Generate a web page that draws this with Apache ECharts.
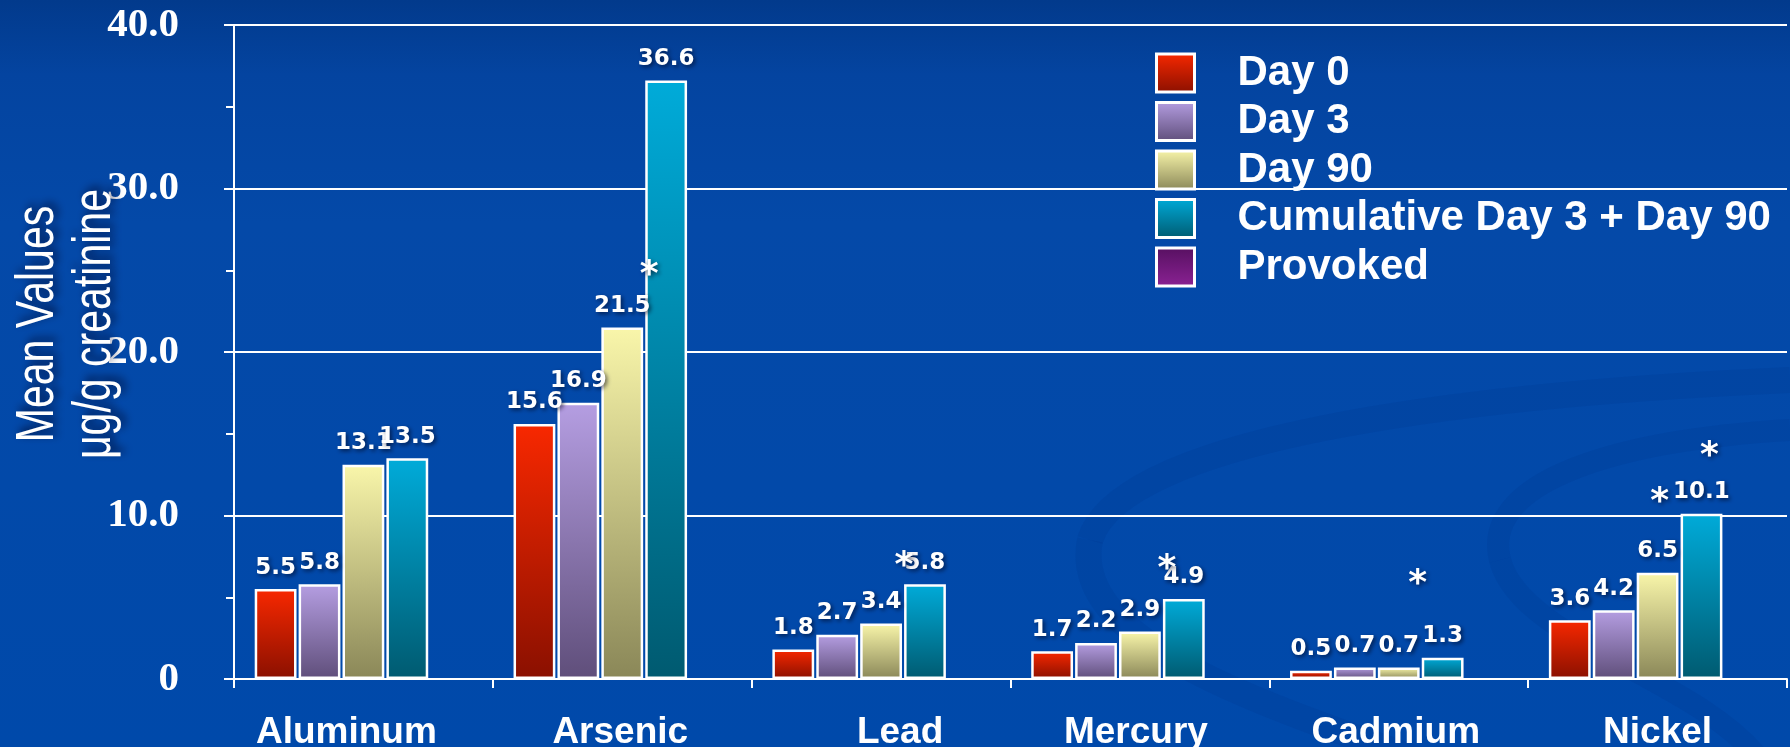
<!DOCTYPE html>
<html>
<head>
<meta charset="utf-8">
<script src="https://cdn.jsdelivr.net/npm/echarts@6/dist/echarts.min.js"></script>
<style>
html,body{margin:0;padding:0;background:#0047a6;}
#c{width:1790px;height:747px;}
</style>
</head>
<body>
<div id="c"></div>
<script>
// ---- data ----
const categories = ['Aluminum', 'Arsenic', 'Lead', 'Mercury', 'Cadmium', 'Nickel'];
const seriesNames = ['Day 0', 'Day 3', 'Day 90', 'Cumulative Day 3 + Day 90', 'Provoked'];
const day0 = [5.5, 15.6, 1.8, 1.7, 0.5, 3.6];
const day3 = [5.8, 16.9, 2.7, 2.2, 0.7, 4.2];
const day90 = [13.1, 21.5, 3.4, 2.9, 0.7, 6.5];
const cumulative = [13.5, 36.6, 5.8, 4.9, 1.3, 10.1];
const provoked = [null, null, null, null, null, null];
const yTicks = [0, 10, 20, 30, 40];
const yAxisTitle = ['Mean Values', 'μg/g creatinine'];
// significance asterisks: category, series, value where the mark sits
const asteriskCategories = ['Arsenic', 'Lead', 'Mercury', 'Cadmium', 'Nickel', 'Nickel'];
const asteriskSeries = [3, 3, 3, 3, 2, 3];
const asteriskValues = [25.3, 7.5, 7.3, 6.4, 11.4, 14.2];

// ---- styles ----
const grads = [
  ['#f82800', '#8a1000'],
  ['#b59ee2', '#5f4e7a'],
  ['#f9f6aa', '#8a8758'],
  ['#00abd9', '#005a70'],
  ['#561060', '#8b2294']
];
const asteriskDx = [-17, -21, -17, -25, 2, 8];
// label paddings [top,right,bottom,left] nudging category names
const catLabelPad = [[0, 34, 0, 0], [0, 4, 0, 0], [0, 0, 0, 38], [0, 8, 0, 0], [0, 6, 0, 0], [0, 0, 0, 0]];
function grad(c) {
  return new echarts.graphic.LinearGradient(0, 0, 0, 1, [
    {offset: 0, color: c[0]}, {offset: 1, color: c[1]}
  ]);
}
const seriesData = [day0, day3, day90, cumulative, provoked];
const labelFont = 'DejaVu Sans';
const titleFont = 'Liberation Sans';
const shadow = {textShadowColor: 'rgba(0,0,20,0.6)', textShadowBlur: 4, textShadowOffsetX: 2, textShadowOffsetY: 2};

const series = seriesData.map((d, i) => {
  const s = {
    name: seriesNames[i],
    type: 'bar',
    data: d,
    barGap: '5%',
    barCategoryGap: '16%',
    itemStyle: {color: grad(grads[i]), borderColor: '#ffffff', borderWidth: 2.5},
    label: Object.assign({
      show: i < 4,
      position: 'top',
      distance: 10,
      color: '#ffffff',
      fontFamily: labelFont,
      fontWeight: 'bold',
      fontSize: 23,
      formatter: p => (p.value == null ? '' : Number(p.value).toFixed(1))
    }, shadow),
    emphasis: {disabled: true},
    z: 2
  };
  const pts = [];
  asteriskCategories.forEach((c, k) => {
    if (asteriskSeries[k] === i) {
      pts.push({
        coord: [c, asteriskValues[k]],
        label: {offset: [asteriskDx[k], 10]}
      });
    }
  });
  if (pts.length) {
    s.markPoint = {
      symbol: 'rect',
      symbolSize: 0,
      silent: true,
      label: Object.assign({
        show: true,
        position: 'inside',
        formatter: '*',
        color: '#ffffff',
        fontFamily: labelFont,
        fontWeight: 'bold',
        fontSize: 36
      }, shadow),
      data: pts
    };
  }
  return s;
});

// decorative background swooshes
function curve(x1, y1, cx1, cy1, cx2, cy2, x2, y2, w, col) {
  return {
    type: 'bezierCurve', silent: true, z: -10,
    shape: {x1: x1, y1: y1, cpx1: cx1, cpy1: cy1, cpx2: cx2, cpy2: cy2, x2: x2, y2: y2},
    style: {fill: null, stroke: col, lineWidth: w}
  };
}
const swoosh = 'rgba(0,38,120,0.12)';
const chart = echarts.init(document.getElementById('c'), null, {renderer: 'canvas'});
chart.setOption({
  animation: false,
  backgroundColor: new echarts.graphic.LinearGradient(0, 0, 0, 1, [
    {offset: 0, color: '#023a8c'},
    {offset: 0.1, color: '#0444a0'},
    {offset: 0.3, color: '#0449a8'},
    {offset: 1, color: '#0049aa'}
  ]),
  graphic: [
    curve(1790, 380, 1450, 395, 1120, 440, 1090, 540, 26, swoosh),
    curve(1090, 540, 1070, 640, 1250, 700, 1420, 760, 26, swoosh),
    curve(1790, 430, 1620, 440, 1480, 480, 1500, 560, 22, swoosh),
    curve(1500, 560, 1520, 640, 1700, 680, 1760, 760, 22, swoosh),
    {
      type: 'text', silent: true, z: 5,
      x: 67, y: 324, rotation: Math.PI / 2, scaleX: 0.76,
      style: {
        text: yAxisTitle.join('\n'),
        fill: '#ffffff',
        font: '54px "' + titleFont + '"',
        lineHeight: 57,
        align: 'center',
        verticalAlign: 'middle',
        textShadowColor: 'rgba(0,0,30,0.7)', textShadowBlur: 8, textShadowOffsetX: 4, textShadowOffsetY: -4
      }
    }
  ],
  grid: {left: 234, right: 3, top: 25, bottom: 68, containLabel: false, outerBoundsMode: 'none'},
  legend: {
    orient: 'vertical',
    left: 1150,
    top: 47,
    itemWidth: 38,
    itemHeight: 38,
    itemGap: 6.5,
    icon: 'rect',
    selectedMode: false,
    itemStyle: {borderColor: '#ffffff', borderWidth: 3},
    textStyle: {
      color: '#ffffff',
      fontFamily: titleFont,
      fontWeight: 'bold',
      fontSize: 42,
      lineHeight: 40,
      padding: [0, 0, 0, 38]
    },
    data: seriesNames
  },
  xAxis: {
    type: 'category',
    data: categories.map((c, i) => ({value: c, textStyle: {padding: catLabelPad[i]}})),
    axisLine: {lineStyle: {color: '#ffffff', width: 2}},
    axisTick: {show: true, length: 9, lineStyle: {color: '#ffffff', width: 2}},
    axisLabel: {
      color: '#ffffff',
      fontFamily: titleFont,
      fontWeight: 'bold',
      fontSize: 37,
      margin: 35
    }
  },
  yAxis: {
    type: 'value',
    min: yTicks[0],
    max: yTicks[yTicks.length - 1],
    interval: 10,
    axisLine: {show: true, lineStyle: {color: '#ffffff', width: 2}},
    axisTick: {show: true, length: 10, lineStyle: {color: '#ffffff', width: 2}},
    minorTick: {show: true, splitNumber: 2, length: 8, lineStyle: {color: '#ffffff', width: 2}},
    splitLine: {show: true, lineStyle: {color: '#ffffff', width: 2}},
    axisLabel: {
      color: '#ffffff',
      fontFamily: 'Liberation Serif',
      fontWeight: 'bold',
      fontSize: 41,
      margin: 55,
      formatter: v => (v === 0 ? '0' : v.toFixed(1))
    }
  },
  series: series
});
</script>
</body>
</html>
